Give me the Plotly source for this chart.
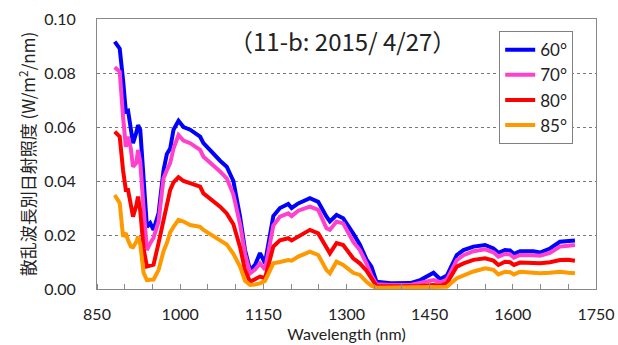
import plotly.graph_objects as go

wavelength = [882, 891, 897, 902, 906, 911, 915, 921, 924, 928, 934, 940, 946, 952, 961, 970, 976, 982, 988, 997,
              1006, 1018, 1036, 1042, 1072, 1084, 1096, 1108, 1117, 1126, 1135, 1144, 1153, 1168, 1180, 1195, 1201,
              1213, 1234, 1249, 1264, 1270, 1282, 1294, 1312, 1324, 1336, 1345, 1354, 1380, 1415, 1433, 1457, 1469,
              1481, 1499, 1511, 1529, 1550, 1565, 1574, 1586, 1595, 1602, 1613, 1637, 1649, 1667, 1685, 1700, 1712]

deg60 = [0.0916, 0.089, 0.0774, 0.0657, 0.066, 0.0589, 0.054, 0.058, 0.0607, 0.059, 0.040, 0.023, 0.0244, 0.0219,
         0.028, 0.044, 0.050, 0.052, 0.059, 0.0623, 0.060, 0.059, 0.0564, 0.054, 0.0475, 0.0453, 0.040, 0.0268,
         0.0144, 0.007, 0.0089, 0.0133, 0.0096, 0.027, 0.030, 0.0315, 0.030, 0.0317, 0.0336, 0.0323, 0.0268, 0.025,
         0.0274, 0.0262, 0.0206, 0.0165, 0.011, 0.0083, 0.0027, 0.0021, 0.0022, 0.0033, 0.006, 0.0036, 0.005,
         0.0126, 0.0144, 0.0157, 0.0163, 0.015, 0.0134, 0.0144, 0.0143, 0.013, 0.014, 0.014, 0.0135, 0.015, 0.0175,
         0.0178, 0.018]

deg70 = [0.0821, 0.0805, 0.0638, 0.0527, 0.0564, 0.052, 0.0453, 0.0467, 0.0515, 0.047, 0.030, 0.0144, 0.017, 0.019,
         0.025, 0.041, 0.044, 0.0467, 0.052, 0.057, 0.055, 0.054, 0.0515, 0.049, 0.0435, 0.041, 0.035, 0.024,
         0.013, 0.0058, 0.0072, 0.0095, 0.0072, 0.0235, 0.0268, 0.028, 0.027, 0.029, 0.0305, 0.0293, 0.0225, 0.0219,
         0.025, 0.0243, 0.0175, 0.0144, 0.0095, 0.005, 0.0018, 0.0015, 0.0015, 0.0022, 0.0033, 0.0025, 0.0035,
         0.0107, 0.0125, 0.014, 0.0147, 0.0136, 0.012, 0.013, 0.0128, 0.0116, 0.0126, 0.0125, 0.0123, 0.0134, 0.0157,
         0.016, 0.0163]

deg80 = [0.0583, 0.0564, 0.044, 0.0367, 0.0367, 0.0305, 0.0268, 0.031, 0.0342, 0.029, 0.015, 0.0083, 0.0085, 0.009,
         0.017, 0.025, 0.030, 0.0367, 0.0395, 0.0414, 0.040, 0.039, 0.0379, 0.0354, 0.0305, 0.028, 0.024, 0.0155,
         0.007, 0.0027, 0.0035, 0.0046, 0.004, 0.0157, 0.018, 0.0188, 0.018, 0.0195, 0.0219, 0.0206, 0.015, 0.0132,
         0.017, 0.0163, 0.0114, 0.0095, 0.0068, 0.004, 0.0011, 0.001, 0.001, 0.0011, 0.0015, 0.0012, 0.0021,
         0.0083, 0.0095, 0.0108, 0.0114, 0.0105, 0.0089, 0.0101, 0.0099, 0.0089, 0.0098, 0.0097, 0.0095, 0.0099,
         0.0107, 0.0108, 0.0105]

deg85 = [0.0348, 0.0318, 0.0194, 0.0207, 0.018, 0.0157, 0.0155, 0.0175, 0.0194, 0.0165, 0.006, 0.0033, 0.0034,
         0.0035, 0.007, 0.014, 0.017, 0.021, 0.023, 0.0256, 0.025, 0.0237, 0.023, 0.0219, 0.018, 0.0165, 0.013,
         0.0083, 0.003, 0.0015, 0.0017, 0.0021, 0.003, 0.0095, 0.010, 0.0107, 0.0105, 0.012, 0.0138, 0.0126, 0.007,
         0.0058, 0.0101, 0.0089, 0.006, 0.0052, 0.0027, 0.0012, 0.0005, 0.0005, 0.0005, 0.0005, 0.0005, 0.0005,
         0.0008, 0.004, 0.005, 0.0065, 0.0077, 0.0071, 0.0054, 0.0064, 0.0062, 0.0054, 0.0064, 0.006, 0.0058, 0.006,
         0.0064, 0.006, 0.0058]

series_names = ["60°", "70°", "80°", "85°"]
series_colors = ["#0000FF", "#FF40CC", "#FF0000", "#FF9900"]
series_values = [deg60, deg70, deg80, deg85]

x_ticks = [850, 1000, 1150, 1300, 1450, 1600, 1750]
y_ticks = [0.00, 0.02, 0.04, 0.06, 0.08, 0.10]

num_font = "Lato, 'Noto Sans', sans-serif"
jp_font = "'Noto Sans CJK JP', sans-serif"

fig = go.Figure()
for name, color, vals in zip(series_names, series_colors, series_values):
    fig.add_trace(go.Scatter(x=wavelength, y=vals, mode="lines", name=name, legendgroup=name,
                             line=dict(color=color, width=4)))

fig.update_layout(
    width=618, height=345,
    margin=dict(l=97, r=22, t=19, b=56),
    plot_bgcolor="white", paper_bgcolor="white",
    showlegend=True,
    legend=dict(x=0.806, y=0.955, xanchor="left", yanchor="top",
                bordercolor="#808080", borderwidth=1, bgcolor="white",
                font=dict(family=num_font, size=17, color="#222"),
                tracegroupgap=0, itemwidth=30),
    annotations=[dict(text="（11-b: 2015/ 4/27）", x=0.491, y=0.92, xref="paper", yref="paper",
                      xanchor="center", yanchor="middle", showarrow=False,
                      font=dict(family=jp_font, size=24, color="#222"))],
)

fig.update_xaxes(range=[850, 1750], tickvals=x_ticks, ticks="", showgrid=False, automargin=False,
                 showline=True, linecolor="#888", linewidth=1, mirror=True,
                 tickfont=dict(family=num_font, size=16, color="#222"), ticklabelstandoff=11,
                 minor=dict(dtick=50, tick0=850, ticks="inside", ticklen=5, tickcolor="#888", showgrid=False),
                 title=dict(text="Wavelength (nm)", font=dict(family=num_font, size=16, color="#222"), standoff=6))

fig.update_yaxes(range=[0, 0.1], tickvals=y_ticks, tickformat=".2f", ticks="", automargin=False,
                 showgrid=True, gridcolor="#777", griddash="dot", gridwidth=1,
                 showline=True, linecolor="#888", linewidth=1, mirror=True, zeroline=False,
                 tickfont=dict(family=num_font, size=16, color="#222"), ticklabelstandoff=17,
                 title=dict(text="散乱波長別日射照度 (W/m<sup>2</sup>/nm)",
                            font=dict(family=jp_font, size=17, color="#222"), standoff=4))

fig.write_html("out.html")
